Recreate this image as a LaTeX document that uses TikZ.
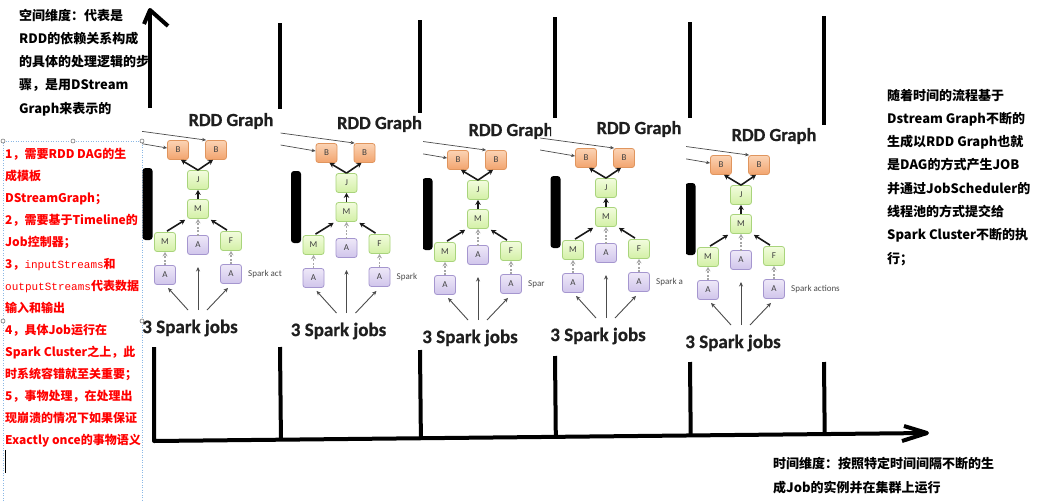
\documentclass[tikz,border=0pt]{standalone}
\usepackage{fontspec}
\setmainfont{Carlito}
\newfontfamily\calb{Carlito}[BoldFeatures={FakeBold=0.7}]
\newfontfamily\cjk{Noto Sans CJK SC}
\newfontfamily\monof{Liberation Mono}
\usetikzlibrary{arrows.meta,calc}
\definecolor{orD}{HTML}{E0955E}
\definecolor{orT}{HTML}{FBD3B4}
\definecolor{orB}{HTML}{F2A46E}
\definecolor{grD}{HTML}{A9D47C}
\definecolor{grT}{HTML}{F2FCDD}
\definecolor{grB}{HTML}{D3F0A6}
\definecolor{puD}{HTML}{A596CF}
\definecolor{puT}{HTML}{EEE8F8}
\definecolor{puB}{HTML}{D0C5EB}
\definecolor{boxblue}{HTML}{8AB8E6}
\tikzset{
  boxbase/.style={rounded corners=2.5pt, minimum width=21pt, minimum height=19pt, inner sep=0pt,
    font=\fontsize{9}{9}\selectfont, text=black!75, line width=0.8pt},
  bnode/.style={boxbase, draw=orD, top color=orT, bottom color=orB},
  gnode/.style={boxbase, draw=grD, top color=grT, bottom color=grB},
  pnode/.style={boxbase, draw=puD, top color=puT, bottom color=puB},
  blkarr/.style={line width=1.6pt, black!90, -{Stealth[length=5pt,width=5.5pt]}},
  dasharr/.style={line width=1.1pt, black!35, dash pattern=on 2pt off 1.5pt, -{Stealth[length=4.5pt,width=5pt]}},
  thinarr/.style={line width=0.9pt, black!70, -{Stealth[length=4.5pt,width=4pt]}},
  leftarr/.style={line width=0.7pt, black!70, -{Stealth[length=4pt,width=3.5pt]}},
  axisline/.style={line width=4pt, black, line join=round},
  ttl/.style={font=\calb\bfseries\fontsize{18.5}{18.5}\selectfont, text=black!88, inner sep=0pt},
  jobs/.style={font=\calb\bfseries\fontsize{19}{19}\selectfont, text=black!88, inner sep=0pt},
  sparklbl/.style={font=\fontsize{9}{9}\selectfont, text=black!70, anchor=west, inner sep=0pt},
  barnode/.style={fill=black, rounded corners=3pt, minimum width=10pt, minimum height=72pt, inner sep=0pt},
  cjktxt/.style={anchor=base west, inner sep=0pt, font=\cjk\bfseries\fontsize{13}{13}\selectfont, text=black},
  redtxt/.style={anchor=base west, inner sep=0pt, font=\cjk\bfseries\fontsize{12}{12}\selectfont, text=red},
  handle/.style={circle, draw=black!60, fill=white, inner sep=0pt, minimum size=4pt, line width=0.5pt}
}
\newcommand\rddpanel[6]{%
\begin{scope}
\clip (#4,95) rectangle (#5,362);
\begin{scope}[shift={(#2,#3)}]
 \node[bnode] (#1b1) at (0,0) {B};
 \node[bnode] (#1b2) at (38,0) {B};
 \node[gnode] (#1j) at (20,30) {J};
 \node[gnode] (#1m) at (20,59) {M};
 \node[gnode] (#1ml) at (-13,92) {M};
 \node[pnode] (#1am) at (20,95) {A};
 \node[gnode] (#1f) at (53,91) {F};
 \node[pnode] (#1al) at (-13,125) {A};
 \node[pnode] (#1ar) at (53,124) {A};
 \node[sparklbl] (#1sl) at (70,124) {#6};
 \node[ttl] (#1t) at (53,-29) {RDD Graph};
 \node[jobs] (#1jobs) at (12,178) {3 Spark jobs};
 \node[barnode] (#1bar) at (-30.5,54) {};
 \coordinate (#1s1) at (-46,-20);
 \coordinate (#1s2) at (-46,-8);
 \coordinate (#1o1) at (10,160);
 \coordinate (#1o2) at (20,160);
 \coordinate (#1o3) at (29,160);
 \coordinate (#1mt) at (20,117);
 \draw[leftarr] (#1s1) -- ($(#1b2.north west)+(1,0)$);
 \draw[leftarr] (#1s2) -- ($(#1b1.west)+(0,-2)$);
 \draw[blkarr] (#1j.north) -- ($(#1b1.south)+(3,0)$);
 \draw[blkarr] (#1j.north) -- ($(#1b2.south)+(-3,0)$);
 \draw[blkarr] (#1m.north) -- (#1j.south);
 \draw[blkarr] ($(#1ml.north)+(2,-1)$) -- ($(#1m.south west)+(-2,1)$);
 \draw[blkarr] ($(#1f.north)+(-4,-1)$) -- ($(#1m.south east)+(2,1)$);
 \draw[dasharr] (#1al.north) -- (#1ml.south);
 \draw[dasharr] ($(#1am.north)+(0,0.5)$) -- (#1m.south);
 \draw[dasharr] (#1ar.north) -- (#1f.south);
 \draw[thinarr] (#1o1) -- ($(#1al.south)+(3,3)$);
 \draw[thinarr] (#1o2) -- (#1mt);
 \draw[thinarr] (#1o3) -- ($(#1ar.south)+(-3,4)$);
\end{scope}
\end{scope}}
\begin{document}
\begin{tikzpicture}[x=1pt,y=-1pt]
\path[use as bounding box, fill=white] (0,0) rectangle (1038,501);
% top-left text
\foreach \t [count=\i] in {空间维度：代表是,RDD的依赖关系构成,的具体的处理逻辑的步,骤，是用DStream,Graph来表示的}
  \node[cjktxt] (tl\i) at (19,{20+(\i-1)*23.25}) {\t};
% red text box
\foreach \t [count=\i] in {1，需要RDD DAG的生,成模板,DStreamGraph；,2，需要基于Timeline的,Job控制器；,{3，{\monof\mdseries\fontsize{11}{11}\selectfont inputStreams}和},{{\monof\mdseries\fontsize{11}{11}\selectfont outputStreams}代表数据},输入和输出,4，具体Job运行在,Spark Cluster之上，此,时系统容错就至关重要；,5，事物处理，在处理出,现崩溃的情况下如果保证,Exactly once的事物语义}
  \node[redtxt] (rd\i) at (5,{158.6+(\i-1)*22}) {\t};
\coordinate (rb1) at (3,501);
\coordinate (rb2) at (142,141);
\coordinate (rb3) at (142,501);
\draw[boxblue, line width=0.8pt, dash pattern=on 1pt off 1.5pt] (rb1) |- (rb2) -- (rb3);
\node[handle] (hd1) at (3,141) {};
\node[handle] (hd2) at (73,141) {};
\node[handle] (hd3) at (142,141) {};
\node[handle] (hd4) at (3,321) {};
\node[handle] (hd5) at (142,321) {};
\coordinate (cur1) at (5,450);
\coordinate (cur2) at (5,473);
\draw[line width=0.8pt] (cur1) -- (cur2);
% right text
\foreach \t [count=\i] in {随着时间的流程基于,Dstream Graph不断的,生成以RDD Graph也就,是DAG的方式产生JOB,并通过JobScheduler的,线程池的方式提交给,Spark Cluster不断的执,行；}
  \node[cjktxt] (rt\i) at (887,{100+(\i-1)*23.3}) {\t};
% bottom text
\node[cjktxt] (bt1) at (773,468) {时间维度：按照特定时间间隔不断的生};
\node[cjktxt] (bt2) at (773,492) {成Job的实例并在集群上运行};
% panels
\rddpanel{p1}{178}{150}{142}{281}{Spark act}
\rddpanel{p2}{326.5}{153}{280.5}{423}{Spark}
\rddpanel{p3}{458}{160}{423}{551}{Spar}
\rddpanel{p4}{586}{158}{540}{687}{Spark a}
\rddpanel{p5}{721}{165}{686}{900}{Spark actions}
% space axis (vertical arrow)
\coordinate (ax0) at (150,108);
\coordinate (ax1) at (150,10);
\coordinate (axl) at (144,24);
\coordinate (axr) at (168,26);
\draw[axisline] (ax0) -- (ax1);
\draw[axisline] (axl) -- (ax1) -- (axr);
% time axis
\coordinate (h0) at (154,441);
\coordinate (h1) at (927,433);
\coordinate (hu) at (904,426);
\coordinate (hd) at (902,441);
\coordinate (v0) at (154,347);
\draw[axisline] (v0) -- (h0) -- (h1);
\draw[axisline] (hu) -- (h1) -- (hd);
% time markers
\foreach \n/\x/\ta/\tb/\ba in {1/280/23/109/347, 2/420/20/113/350, 3/555/17/118/356, 4/690/22/118/362, 5/824/16/125/362} {
  \coordinate (u\n a) at (\x,\ta);
  \coordinate (u\n b) at (\x,\tb);
  \coordinate (l\n a) at (\x,\ba);
  \coordinate (l\n b) at ($(h0)!(l\n a)!(h1)$);
  \draw[axisline] (u\n a) -- (u\n b);
  \draw[axisline] (l\n a) -- (l\n b);
}
\end{tikzpicture}
\end{document}
